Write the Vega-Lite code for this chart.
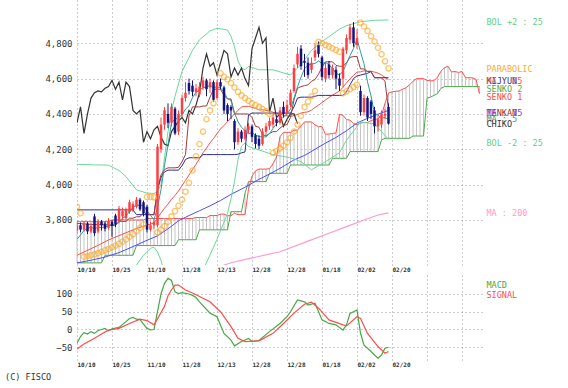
{
"$schema": "https://vega.github.io/schema/vega-lite/v6.json",
"background": "white",
"padding": {"left": 5, "top": 0, "right": 5, "bottom": 4},
"spacing": 10,
"bounds": "flush",
"resolve": {"scale": {"color": "independent"}},
"config": {
 "view": {"stroke": null},
 "font": "DejaVu Sans Mono",
 "axis": {"domain": false, "ticks": false, "grid": true, "gridColor": "#9a9a9a", "gridDash": [1, 3], "gridWidth": 1, "labelColor": "#333333", "labelFont": "DejaVu Sans Mono", "labelOverlap": false},
 "axisX": {"values": [0, 11, 22, 33, 44, 55, 66, 77, 88], "labelExpr": "['10/10','10/25','11/10','11/28','12/13','12/28','01/18','02/02','02/20'][round(datum.value/11)]", "labelAlign": "left", "labelBaseline": "top", "labelPadding": 1, "labelFontSize": 6, "labelFontWeight": "bold", "labelFlush": false, "labelBound": false},
 "axisY": {"labelFontSize": 9, "labelPadding": 5, "labelExpr": "format(datum.value, ',d')", "labelOverlap": false, "labelFlush": false, "labelBound": false}
},
"datasets": {
"k": [
{"i":0,"o":3740,"h":3790,"l":3725,"c":3770,"m5":3690,"m25":3600,"tk":3780,"kj":3857,"ck":4350,"sar":3875},
{"i":1,"o":3770,"h":3785,"l":3730,"c":3745,"ck":4440,"sar":3838},
{"i":2,"o":3745,"h":3795,"l":3735,"c":3780,"m5":3740,"ck":4290,"sar":3592},
{"i":3,"o":3780,"h":3790,"l":3720,"c":3735,"m5":3752,"m25":3628,"ck":4400,"sar":3595},
{"i":4,"o":3735,"h":3780,"l":3725,"c":3765,"m5":3759,"tk":3775,"ck":4490,"sar":3600},
{"i":5,"o":3820,"h":3835,"l":3710,"c":3725,"m5":3750,"ck":4520,"sar":3605},
{"i":6,"o":3735,"h":3805,"l":3725,"c":3790,"m5":3759,"m25":3656,"ck":4530,"sar":3612},
{"i":7,"o":3790,"h":3800,"l":3740,"c":3770,"m5":3757,"ck":4525,"sar":3620},
{"i":8,"o":3780,"h":3790,"l":3735,"c":3750,"m5":3760,"tk":3772,"ck":4545,"sar":3628},
{"i":9,"o":3755,"h":3810,"l":3745,"c":3795,"m5":3766,"m25":3687,"tk":3772,"ck":4555,"sar":3636},
{"i":10,"o":3790,"h":3800,"l":3705,"c":3765,"m5":3774,"tk":3770,"ck":4590,"sar":3645},
{"i":11,"o":3825,"h":3835,"l":3760,"c":3775,"m5":3771,"tk":3770,"ck":4540,"sar":3655},
{"i":12,"o":3790,"h":3880,"l":3780,"c":3865,"m5":3790,"m25":3711,"tk":3792,"ck":4580,"sar":3665},
{"i":13,"o":3820,"h":3870,"l":3800,"c":3850,"m5":3810,"tk":3792,"ck":4480,"sar":3677},
{"i":14,"o":3810,"h":3870,"l":3800,"c":3855,"m5":3822,"tk":3792,"ck":4580,"sar":3690},
{"i":15,"o":3845,"h":3915,"l":3835,"c":3900,"m5":3849,"tk":3810,"ck":4555,"sar":3705},
{"i":16,"o":3855,"h":3905,"l":3845,"c":3890,"m5":3872,"m25":3744,"tk":3810,"kj":3857,"ck":4420,"sar":3720},
{"i":17,"o":3875,"h":3930,"l":3865,"c":3915,"m5":3882,"tk":3818,"kj":3830,"ck":4400,"sar":3737},
{"i":18,"o":3915,"h":3925,"l":3850,"c":3860,"m5":3884,"tk":3818,"ck":4420,"sar":3755},
{"i":19,"o":3900,"h":3910,"l":3820,"c":3840,"m5":3881,"m25":3765,"tk":3845,"ck":4240,"sar":3775},
{"i":20,"o":3875,"h":3885,"l":3730,"c":3745,"m5":3850,"tk":3830,"ck":4300,"sar":3930},
{"i":21,"o":3745,"h":3790,"l":3735,"c":3770,"m5":3826,"tk":3830,"ck":4260,"sar":3930},
{"i":22,"o":3770,"h":3800,"l":3750,"c":3790,"m5":3801,"m25":3783,"tk":3830,"kj":3830,"ck":4310,"sar":3928},
{"i":23,"o":3770,"h":4230,"l":3760,"c":4215,"m5":3872,"m25":3810,"tk":3980,"kj":3968,"ck":4330,"sar":3730},
{"i":24,"o":4200,"h":4380,"l":4180,"c":4340,"m5":3972,"m25":3840,"tk":4055,"kj":4042,"ck":4270,"sar":3745},
{"i":25,"o":4340,"h":4440,"l":4310,"c":4420,"m5":4107,"m25":3866,"tk":4085,"kj":4072,"ck":4230,"sar":3765},
{"i":26,"o":4400,"h":4460,"l":4320,"c":4350,"m5":4223,"m25":3890,"tk":4095,"kj":4082,"ck":4220,"sar":3790},
{"i":27,"o":4350,"h":4460,"l":4330,"c":4440,"m5":4353,"m25":3917,"tk":4095,"kj":4082,"ck":4300,"sar":3820},
{"i":28,"o":4430,"h":4440,"l":4280,"c":4290,"m5":4368,"m25":3939,"tk":4095,"kj":4082,"ck":4330,"sar":3850},
{"i":29,"o":4300,"h":4420,"l":4280,"c":4400,"m5":4380,"m25":3964,"tk":4098,"kj":4082,"ck":4360,"sar":3880},
{"i":30,"o":4400,"h":4510,"l":4380,"c":4490,"m5":4394,"m25":3995,"tk":4130,"kj":4107,"ck":4380,"sar":3915},
{"i":31,"o":4490,"h":4580,"l":4470,"c":4520,"m5":4428,"m25":4024,"tk":4170,"kj":4142,"ck":4350,"sar":3960},
{"i":32,"o":4575,"h":4600,"l":4510,"c":4530,"m5":4446,"m25":4054,"tk":4390,"kj":4152,"ck":4420,"sar":4010},
{"i":33,"o":4560,"h":4590,"l":4500,"c":4525,"m5":4493,"m25":4085,"tk":4440,"kj":4152,"ck":4400,"sar":4080},
{"i":34,"o":4525,"h":4570,"l":4500,"c":4545,"m5":4522,"m25":4115,"tk":4440,"kj":4152,"ck":4450,"sar":4160},
{"i":35,"o":4510,"h":4580,"l":4495,"c":4555,"m5":4535,"m25":4147,"tk":4440,"kj":4152,"ck":4520,"sar":4230},
{"i":36,"o":4550,"h":4610,"l":4535,"c":4590,"m5":4549,"m25":4180,"tk":4445,"kj":4170,"ck":4660,"sar":4300},
{"i":37,"o":4590,"h":4600,"l":4500,"c":4540,"m5":4551,"m25":4207,"tk":4445,"kj":4170,"ck":4740,"sar":4370},
{"i":38,"o":4550,"h":4600,"l":4520,"c":4580,"m5":4562,"m25":4236,"tk":4495,"kj":4170,"ck":4670,"sar":4420},
{"i":39,"o":4580,"h":4590,"l":4470,"c":4480,"m5":4549,"m25":4261,"tk":4540,"kj":4170,"ck":4690,"sar":4460},
{"i":40,"o":4490,"h":4595,"l":4480,"c":4580,"m5":4554,"m25":4288,"tk":4540,"kj":4170,"ck":4620},
{"i":41,"o":4580,"h":4600,"l":4540,"c":4555,"m5":4547,"m25":4315,"tk":4540,"kj":4170,"ck":4690,"sar":4630},
{"i":42,"o":4550,"h":4560,"l":4400,"c":4420,"m5":4523,"m25":4335,"tk":4505,"kj":4170,"ck":4760,"sar":4610},
{"i":43,"o":4450,"h":4460,"l":4360,"c":4400,"m5":4487,"m25":4356,"tk":4485,"kj":4170,"ck":4740,"sar":4595},
{"i":44,"o":4440,"h":4450,"l":4370,"c":4420,"m5":4475,"m25":4380,"tk":4485,"kj":4170,"ck":4610,"sar":4575},
{"i":45,"o":4360,"h":4370,"l":4200,"c":4240,"m5":4407,"m25":4399,"tk":4400,"kj":4170,"ck":4660,"sar":4550},
{"i":46,"o":4240,"h":4320,"l":4225,"c":4300,"m5":4356,"m25":4421,"tk":4400,"kj":4172,"ck":4620,"sar":4525},
{"i":47,"o":4300,"h":4310,"l":4240,"c":4260,"m5":4324,"m25":4439,"tk":4400,"kj":4180,"ck":4660,"sar":4505},
{"i":48,"o":4260,"h":4330,"l":4250,"c":4310,"m5":4306,"m25":4443,"tk":4400,"kj":4185,"ck":4600,"sar":4490},
{"i":49,"o":4310,"h":4350,"l":4290,"c":4330,"m5":4288,"m25":4443,"tk":4400,"kj":4395,"ck":4560,"sar":4475},
{"i":50,"o":4330,"h":4340,"l":4240,"c":4270,"m5":4294,"m25":4437,"tk":4380,"kj":4405,"ck":4770,"sar":4460},
{"i":51,"o":4280,"h":4290,"l":4205,"c":4230,"m5":4280,"m25":4432,"tk":4330,"kj":4405,"ck":4830,"sar":4450},
{"i":52,"o":4260,"h":4280,"l":4200,"c":4220,"m5":4272,"m25":4423,"tk":4325,"kj":4405,"ck":4890,"sar":4440},
{"i":53,"o":4230,"h":4320,"l":4220,"c":4300,"m5":4270,"m25":4424,"tk":4285,"kj":4405,"ck":4800,"sar":4428},
{"i":54,"o":4300,"h":4350,"l":4280,"c":4330,"m5":4270,"m25":4421,"tk":4275,"kj":4405,"ck":4830,"sar":4415},
{"i":55,"o":4330,"h":4380,"l":4310,"c":4360,"m5":4288,"m25":4416,"tk":4290,"kj":4405,"ck":4410,"sar":4400},
{"i":56,"o":4340,"h":4400,"l":4320,"c":4380,"m5":4318,"m25":4410,"tk":4300,"kj":4405,"ck":4490,"sar":4180},
{"i":57,"o":4370,"h":4390,"l":4330,"c":4350,"m5":4344,"m25":4403,"tk":4300,"kj":4405,"ck":4380,"sar":4190},
{"i":58,"o":4350,"h":4440,"l":4340,"c":4420,"m5":4368,"m25":4399,"tk":4320,"kj":4405,"ck":4400,"sar":4205},
{"i":59,"o":4440,"h":4470,"l":4380,"c":4400,"m5":4382,"m25":4393,"tk":4335,"kj":4405,"ck":4330,"sar":4220},
{"i":60,"o":4400,"h":4480,"l":4390,"c":4450,"m5":4400,"m25":4389,"tk":4340,"kj":4405,"ck":4370,"sar":4240},
{"i":61,"o":4450,"h":4540,"l":4440,"c":4520,"m5":4428,"m25":4386,"tk":4380,"kj":4405,"ck":4400,"sar":4265},
{"i":62,"o":4530,"h":4680,"l":4520,"c":4660,"m5":4490,"m25":4391,"tk":4480,"kj":4440,"ck":4400,"sar":4300},
{"i":63,"o":4680,"h":4780,"l":4660,"c":4740,"m5":4554,"m25":4397,"tk":4545,"kj":4490,"ck":4345,"sar":4340},
{"i":64,"o":4770,"h":4790,"l":4650,"c":4670,"m5":4608,"m25":4405,"tk":4555,"kj":4495,"sar":4390},
{"i":65,"o":4700,"h":4740,"l":4610,"c":4690,"m5":4656,"m25":4409,"tk":4560,"kj":4495,"sar":4440},
{"i":66,"o":4690,"h":4720,"l":4600,"c":4620,"m5":4676,"m25":4412,"tk":4565,"kj":4495,"sar":4470},
{"i":67,"o":4650,"h":4720,"l":4630,"c":4690,"m5":4682,"m25":4422,"tk":4585,"kj":4495,"sar":4500},
{"i":68,"o":4720,"h":4800,"l":4700,"c":4760,"m5":4686,"m25":4437,"tk":4595,"kj":4500,"sar":4530},
{"i":69,"o":4790,"h":4810,"l":4720,"c":4740,"m5":4700,"m25":4450,"tk":4625,"kj":4505,"sar":4808},
{"i":70,"o":4720,"h":4730,"l":4590,"c":4610,"m5":4684,"m25":4464,"tk":4665,"kj":4505,"sar":4800},
{"i":71,"o":4600,"h":4690,"l":4580,"c":4660,"m5":4692,"m25":4479,"tk":4695,"kj":4505,"sar":4790},
{"i":72,"o":4680,"h":4700,"l":4600,"c":4620,"m5":4678,"m25":4493,"tk":4695,"kj":4505,"sar":4781},
{"i":73,"o":4620,"h":4680,"l":4600,"c":4660,"m5":4658,"m25":4507,"tk":4695,"kj":4505,"sar":4772},
{"i":74,"o":4650,"h":4670,"l":4540,"c":4600,"m5":4630,"m25":4518,"tk":4675,"kj":4505,"sar":4762},
{"i":75,"o":4600,"h":4630,"l":4530,"c":4560,"m5":4620,"m25":4530,"tk":4670,"kj":4505,"sar":4752},
{"i":76,"o":4600,"h":4780,"l":4550,"c":4770,"m5":4642,"m25":4551,"tk":4670,"kj":4505,"sar":4518},
{"i":77,"o":4760,"h":4850,"l":4740,"c":4830,"m5":4684,"m25":4576,"tk":4690,"kj":4525,"sar":4528},
{"i":78,"o":4820,"h":4910,"l":4800,"c":4890,"m5":4730,"m25":4599,"tk":4720,"kj":4565,"sar":4540},
{"i":79,"o":4890,"h":4920,"l":4780,"c":4800,"m5":4770,"m25":4618,"tk":4725,"kj":4600,"sar":4552},
{"i":80,"o":4790,"h":4880,"l":4770,"c":4830,"m5":4824,"m25":4637,"tk":4725,"kj":4615,"sar":4565},
{"i":81,"o":4530,"h":4560,"l":4390,"c":4410,"m5":4752,"m25":4638,"tk":4655,"kj":4620,"sar":4917},
{"i":82,"o":4410,"h":4510,"l":4390,"c":4490,"m5":4684,"m25":4644,"tk":4655,"kj":4625,"sar":4895},
{"i":83,"o":4490,"h":4500,"l":4360,"c":4380,"m5":4582,"m25":4642,"tk":4640,"kj":4630,"sar":4870},
{"i":84,"o":4470,"h":4480,"l":4370,"c":4400,"m5":4502,"m25":4642,"tk":4640,"kj":4640,"sar":4840},
{"i":85,"o":4420,"h":4440,"l":4290,"c":4330,"m5":4402,"m25":4637,"tk":4605,"kj":4605,"sar":4810},
{"i":86,"o":4330,"h":4390,"l":4300,"c":4370,"m5":4394,"m25":4631,"tk":4605,"kj":4605,"sar":4775},
{"i":87,"o":4340,"h":4420,"l":4320,"c":4400,"m5":4376,"m25":4621,"tk":4605,"kj":4605,"sar":4738},
{"i":88,"o":4390,"h":4430,"l":4370,"c":4400,"m5":4380,"m25":4607,"tk":4585,"kj":4605,"sar":4698},
{"i":89,"o":4440,"h":4460,"l":4340,"c":4345,"m5":4369,"m25":4594,"tk":4425,"kj":4605,"sar":4658}
],
"sp": [
{"i":0,"m75":3557,"bu":4115,"bl":3085},
{"i":4,"m75":3572},
{"i":5,"bu":4112},
{"i":8,"m75":3590},
{"i":9,"bu":4110},
{"i":10,"bl":3250},
{"i":12,"m75":3615,"bu":4080},
{"i":14,"bu":4045},
{"i":15,"bl":3480},
{"i":16,"m75":3649},
{"i":17,"bu":3970,"bl":3545},
{"i":19,"bl":3600},
{"i":20,"m75":3685,"bu":3952},
{"i":21,"bl":3640},
{"i":22,"bu":3950,"bl":3645},
{"i":23,"m75":3710,"bu":3960,"bl":3620},
{"i":24,"bu":4000,"bl":3570},
{"i":25,"bu":4150,"bl":3500},
{"i":26,"m75":3750,"bu":4300,"bl":3440},
{"i":27,"bu":4420},
{"i":28,"bu":4500,"bl":3378},
{"i":29,"m75":3795},
{"i":30,"bu":4640,"bl":3350,"m200":3495},
{"i":32,"m75":3825},
{"i":33,"bu":4760,"bl":3410},
{"i":35,"m75":3852,"bu":4820,"bl":3474},
{"i":38,"m75":3880,"bu":4870,"bl":3602},
{"i":40,"bu":4885,"bl":3691,"m200":3530},
{"i":41,"m75":3910},
{"i":43,"bu":4875,"bl":3837},
{"i":44,"m75":3945,"bu":4840,"bl":3920,"m200":3558},
{"i":45,"bu":4780,"bl":4018},
{"i":46,"bu":4700,"bl":4142},
{"i":47,"bu":4660,"bl":4218},
{"i":48,"m75":3985,"bu":4650,"bl":4236},
{"i":49,"bu":4670,"bl":4216},
{"i":50,"m200":3585},
{"i":52,"m75":4030,"bu":4650,"bl":4196},
{"i":55,"m75":4060},
{"i":56,"bu":4650,"bl":4170},
{"i":58,"m75":4092,"m200":3620},
{"i":61,"bu":4620,"bl":4152},
{"i":62,"m75":4140},
{"i":64,"bu":4680,"bl":4130},
{"i":65,"m75":4165},
{"i":67,"bu":4760,"bl":4084,"m200":3687},
{"i":68,"m75":4200},
{"i":70,"bu":4810,"bl":4118},
{"i":71,"m75":4235},
{"i":72,"m200":3725},
{"i":74,"m75":4267},
{"i":75,"bu":4880,"bl":4180},
{"i":77,"m75":4305,"bu":4900,"bl":4252,"m200":3762},
{"i":80,"m75":4349},
{"i":81,"bu":4922,"bl":4354},
{"i":82,"m200":3800},
{"i":83,"m75":4375},
{"i":85,"m75":4391,"bu":4930,"bl":4344},
{"i":86,"m200":3828},
{"i":87,"m75":4406},
{"i":89,"m75":4420,"bu":4932,"bl":4256,"m200":3840}
],
"cl": [
{"i":0,"s1":3790,"s2":3557},{"i":1,"s1":3790,"s2":3557},{"i":2,"s1":3790,"s2":3557},{"i":3,"s1":3790,"s2":3557},
{"i":4,"s1":3790,"s2":3557},{"i":5,"s1":3790,"s2":3557},{"i":6,"s1":3790,"s2":3557},{"i":7,"s1":3790,"s2":3557},
{"i":8,"s1":3790,"s2":3600},{"i":9,"s1":3790,"s2":3600},{"i":10,"s1":3800,"s2":3600},{"i":11,"s1":3800,"s2":3600},
{"i":12,"s1":3800,"s2":3600},{"i":13,"s1":3800,"s2":3600},{"i":14,"s1":3800,"s2":3600},{"i":15,"s1":3800,"s2":3600},
{"i":16,"s1":3800,"s2":3600},{"i":17,"s1":3800,"s2":3655},{"i":18,"s1":3800,"s2":3655},{"i":19,"s1":3800,"s2":3655},
{"i":20,"s1":3808,"s2":3655},{"i":21,"s1":3808,"s2":3655},{"i":22,"s1":3808,"s2":3655},{"i":23,"s1":3808,"s2":3655},
{"i":24,"s1":3808,"s2":3655},{"i":25,"s1":3808,"s2":3655},{"i":26,"s1":3808,"s2":3655},{"i":27,"s1":3808,"s2":3655},
{"i":28,"s1":3808,"s2":3655},{"i":29,"s1":3808,"s2":3688},{"i":30,"s1":3808,"s2":3688},{"i":31,"s1":3808,"s2":3688},
{"i":32,"s1":3808,"s2":3688},{"i":33,"s1":3808,"s2":3688},{"i":34,"s1":3814,"s2":3688},{"i":35,"s1":3814,"s2":3744},
{"i":36,"s1":3814,"s2":3744},{"i":37,"s1":3813,"s2":3744},{"i":38,"s1":3825,"s2":3744},{"i":39,"s1":3825,"s2":3744},
{"i":40,"s1":3825,"s2":3744},{"i":41,"s1":3833,"s2":3744},{"i":42,"s1":3833,"s2":3744},{"i":43,"s1":3824,"s2":3744},
{"i":44,"s1":3824,"s2":3847},{"i":45,"s1":3838,"s2":3847},{"i":46,"s1":3830,"s2":3847},{"i":47,"s1":3830,"s2":3847},
{"i":48,"s1":3830,"s2":3950},{"i":49,"s1":3974,"s2":4017},{"i":50,"s1":4048,"s2":4017},{"i":51,"s1":4078,"s2":4017},
{"i":52,"s1":4088,"s2":4017},{"i":53,"s1":4088,"s2":4017},{"i":54,"s1":4088,"s2":4017},{"i":55,"s1":4090,"s2":4064},
{"i":56,"s1":4118,"s2":4064},{"i":57,"s1":4156,"s2":4064},{"i":58,"s1":4271,"s2":4064},{"i":59,"s1":4296,"s2":4064},
{"i":60,"s1":4296,"s2":4064},{"i":61,"s1":4296,"s2":4111},{"i":62,"s1":4308,"s2":4111},{"i":63,"s1":4308,"s2":4111},
{"i":64,"s1":4332,"s2":4111},{"i":65,"s1":4355,"s2":4111},{"i":66,"s1":4355,"s2":4111},{"i":67,"s1":4355,"s2":4111},
{"i":68,"s1":4338,"s2":4111},{"i":69,"s1":4328,"s2":4111},{"i":70,"s1":4328,"s2":4111},{"i":71,"s1":4285,"s2":4111},
{"i":72,"s1":4286,"s2":4111},{"i":73,"s1":4290,"s2":4149},{"i":74,"s1":4292,"s2":4149},{"i":75,"s1":4398,"s2":4149},
{"i":76,"s1":4392,"s2":4149},{"i":77,"s1":4368,"s2":4149},{"i":78,"s1":4365,"s2":4187},{"i":79,"s1":4345,"s2":4187},
{"i":80,"s1":4340,"s2":4187},{"i":81,"s1":4348,"s2":4187},{"i":82,"s1":4352,"s2":4187},{"i":83,"s1":4352,"s2":4187},
{"i":84,"s1":4362,"s2":4187},{"i":85,"s1":4370,"s2":4187},{"i":86,"s1":4372,"s2":4187},{"i":87,"s1":4392,"s2":4253},
{"i":88,"s1":4460,"s2":4262},{"i":89,"s1":4518,"s2":4262},{"i":90,"s1":4525,"s2":4262},{"i":91,"s1":4528,"s2":4262},
{"i":92,"s1":4530,"s2":4262},{"i":93,"s1":4540,"s2":4262},{"i":94,"s1":4548,"s2":4262},{"i":95,"s1":4565,"s2":4262},
{"i":96,"s1":4585,"s2":4275},{"i":97,"s1":4600,"s2":4275},{"i":98,"s1":4600,"s2":4275},{"i":99,"s1":4600,"s2":4275},
{"i":100,"s1":4590,"s2":4489},{"i":101,"s1":4588,"s2":4495},{"i":102,"s1":4588,"s2":4505},{"i":103,"s1":4608,"s2":4515},
{"i":104,"s1":4642,"s2":4545},{"i":105,"s1":4662,"s2":4555},{"i":106,"s1":4670,"s2":4555},{"i":107,"s1":4638,"s2":4555},
{"i":108,"s1":4640,"s2":4555},{"i":109,"s1":4635,"s2":4555},{"i":110,"s1":4640,"s2":4555},{"i":111,"s1":4605,"s2":4555},
{"i":112,"s1":4605,"s2":4555},{"i":113,"s1":4605,"s2":4555},{"i":114,"s1":4595,"s2":4555},{"i":115,"s1":4515,"s2":4555}
],
"md": [
{"i":0,"m":-39,"s":-55},{"i":1,"m":-20},{"i":2,"m":-9,"s":-41},{"i":3,"m":-13},{"i":4,"m":-6},{"i":5,"m":-11,"s":-25},
{"i":6,"m":-3},{"i":7,"m":0,"s":-13},{"i":8,"m":3},{"i":9,"m":-4,"s":-2},{"i":10,"m":2},{"i":12,"m":6,"s":3},
{"i":14,"m":22},{"i":15,"m":31,"s":17},{"i":16,"m":34},{"i":17,"m":29},{"i":18,"m":28,"s":29},{"i":19,"m":15},
{"i":20,"m":3,"s":25},{"i":21,"m":-1},{"i":22,"m":0,"s":13},{"i":23,"m":50,"s":30},{"i":24,"m":100,"s":48},{"i":25,"m":130,"s":65},
{"i":26,"m":144,"s":95},{"i":27,"m":138,"s":112},{"i":28,"m":106,"s":125},{"i":29,"m":101,"s":125},{"i":30,"m":104},
{"i":31,"s":111},{"i":32,"m":100},{"i":33,"m":96,"s":103},{"i":34,"m":90,"s":98},{"i":35,"m":78},{"i":38,"m":46,"s":78},
{"i":40,"m":36},{"i":41,"s":50},{"i":42,"m":-11},{"i":44,"m":-30,"s":8},{"i":45,"m":-46},{"i":46,"s":-25},{"i":47,"m":-34},
{"i":48,"s":-34},{"i":49,"m":-25},{"i":50,"m":-34},{"i":52,"m":-31,"s":-32},{"i":55,"m":-6},{"i":56,"s":-11},
{"i":58,"m":17},{"i":59,"s":17},{"i":60,"m":36},{"i":61,"m":50},{"i":62,"s":46},{"i":63,"m":83},{"i":65,"m":78,"s":71},
{"i":66,"m":69},{"i":67,"s":77},{"i":68,"m":74},{"i":69,"s":60},{"i":70,"m":27},{"i":72,"m":17,"s":27},{"i":74,"m":13},
{"i":76,"m":-2,"s":13},{"i":77,"m":13,"s":10},{"i":78,"m":45},{"i":79,"m":50},{"i":80,"m":55,"s":36},{"i":81,"m":-10,"s":31},
{"i":82,"m":-44},{"i":83,"m":-53,"s":-11},{"i":84,"m":-62},{"i":85,"m":-72},{"i":86,"m":-81,"s":-48},{"i":87,"m":-72},
{"i":88,"m":-53,"s":-67},{"i":89,"m":-50,"s":-62}
],
"lg": [
{"t":"BOL +2 : 25","v":4919},{"t":"PARABOLIC","v":4655},{"t":"KIJYUN","v":4588},{"t":"MA : 25","v":4588},
{"t":"SENKO 2","v":4540},{"t":"SENKO 1","v":4494},{"t":"TENKAN","v":4407},{"t":"MA : 75","v":4407},
{"t":"MA : 5","v":4369},{"t":"CHIKO","v":4343},{"t":"BOL -2 : 25","v":4237},{"t":"MA : 200","v":3837}
],
"lg2": [{"t": "MACD", "v": 125.3}, {"t": "SIGNAL", "v": 97.3}],
"cp": [{"t": "(C) FISCO"}]
},
"vconcat": [
{
"width": 406, "height": 265,
"layer": [
{"data": {"name": "cl"}, "mark": {"type": "rule", "color": "#c4c4c4", "strokeWidth": 1},
 "encoding": {"x": {"field": "i", "type": "quantitative", "title": null, "scale": {"domain": [0, 116], "nice": false, "zero": false}},
   "y": {"field": "s1", "type": "quantitative", "title": null, "scale": {"domain": [3545, 5045], "nice": false, "zero": false},
   "axis": {"values": [3800, 4000, 4200, 4400, 4600, 4800], "labelOverlap": false}}, "y2": {"field": "s2"}}},
{"data": {"name": "cl"}, "mark": {"type": "line", "color": "#4caa4c", "strokeWidth": 1, "clip": true},
 "encoding": {"x": {"field": "i", "type": "quantitative", "title": null}, "y": {"field": "s2", "type": "quantitative", "title": null, "axis": {"values": [3800, 4000, 4200, 4400, 4600, 4800], "labelOverlap": false}}}},
{"data": {"name": "cl"}, "mark": {"type": "line", "color": "#ff5050", "strokeWidth": 1, "clip": true},
 "encoding": {"x": {"field": "i", "type": "quantitative", "title": null}, "y": {"field": "s1", "type": "quantitative", "title": null, "axis": {"values": [3800, 4000, 4200, 4400, 4600, 4800], "labelOverlap": false}}}},
{"data": {"name": "sp"}, "transform": [{"filter": "isValid(datum.m200)"}], "mark": {"type": "line", "color": "#ff99cc", "strokeWidth": 1.2, "clip": true},
 "encoding": {"x": {"field": "i", "type": "quantitative", "title": null}, "y": {"field": "m200", "type": "quantitative", "title": null, "axis": {"values": [3800, 4000, 4200, 4400, 4600, 4800], "labelOverlap": false}}}},
{"data": {"name": "sp"}, "transform": [{"filter": "isValid(datum.m75)"}], "mark": {"type": "line", "color": "#4d4dff", "strokeWidth": 1, "clip": true},
 "encoding": {"x": {"field": "i", "type": "quantitative", "title": null}, "y": {"field": "m75", "type": "quantitative", "title": null, "axis": {"values": [3800, 4000, 4200, 4400, 4600, 4800], "labelOverlap": false}}}},
{"data": {"name": "sp"}, "transform": [{"filter": "isValid(datum.bu)"}], "mark": {"type": "line", "color": "#6cd79b", "strokeWidth": 1, "clip": true},
 "encoding": {"x": {"field": "i", "type": "quantitative", "title": null}, "y": {"field": "bu", "type": "quantitative", "title": null, "axis": {"values": [3800, 4000, 4200, 4400, 4600, 4800], "labelOverlap": false}}}},
{"data": {"name": "sp"}, "transform": [{"filter": "isValid(datum.bl)"}], "mark": {"type": "line", "color": "#6cd79b", "strokeWidth": 1, "clip": true},
 "encoding": {"x": {"field": "i", "type": "quantitative", "title": null}, "y": {"field": "bl", "type": "quantitative", "title": null, "axis": {"values": [3800, 4000, 4200, 4400, 4600, 4800], "labelOverlap": false}}}},
{"data": {"name": "k"}, "transform": [{"filter": "isValid(datum.m25)"}], "mark": {"type": "line", "color": "#ff4d4d", "strokeWidth": 1, "clip": true},
 "encoding": {"x": {"field": "i", "type": "quantitative", "title": null}, "y": {"field": "m25", "type": "quantitative", "title": null, "axis": {"values": [3800, 4000, 4200, 4400, 4600, 4800], "labelOverlap": false}}}},
{"data": {"name": "k"}, "transform": [{"filter": "isValid(datum.ck)"}], "mark": {"type": "line", "color": "#333333", "strokeWidth": 1.2, "clip": true},
 "encoding": {"x": {"field": "i", "type": "quantitative", "title": null}, "y": {"field": "ck", "type": "quantitative", "title": null, "axis": {"values": [3800, 4000, 4200, 4400, 4600, 4800], "labelOverlap": false}}}},
{"data": {"name": "k"}, "transform": [{"filter": "isValid(datum.kj)"}], "mark": {"type": "line", "color": "#2b2b99", "strokeWidth": 1, "clip": true},
 "encoding": {"x": {"field": "i", "type": "quantitative", "title": null}, "y": {"field": "kj", "type": "quantitative", "title": null, "axis": {"values": [3800, 4000, 4200, 4400, 4600, 4800], "labelOverlap": false}}}},
{"data": {"name": "k"}, "transform": [{"filter": "isValid(datum.tk)"}], "mark": {"type": "line", "color": "#a03c3c", "strokeWidth": 1, "clip": true},
 "encoding": {"x": {"field": "i", "type": "quantitative", "title": null}, "y": {"field": "tk", "type": "quantitative", "title": null, "axis": {"values": [3800, 4000, 4200, 4400, 4600, 4800], "labelOverlap": false}}}},
{"data": {"name": "k"}, "transform": [{"filter": "isValid(datum.m5)"}], "mark": {"type": "line", "color": "#2e9c9c", "strokeWidth": 1, "clip": true},
 "encoding": {"x": {"field": "i", "type": "quantitative", "title": null}, "y": {"field": "m5", "type": "quantitative", "title": null, "axis": {"values": [3800, 4000, 4200, 4400, 4600, 4800], "labelOverlap": false}}}},
{"data": {"name": "k"}, "mark": {"type": "rule", "strokeWidth": 1, "clip": true},
 "encoding": {"x": {"field": "i", "type": "quantitative", "title": null}, "y": {"field": "l", "type": "quantitative", "title": null, "axis": {"values": [3800, 4000, 4200, 4400, 4600, 4800], "labelOverlap": false}}, "y2": {"field": "h"},
   "color": {"condition": {"test": "datum.c >= datum.o", "value": "#ff3f3f"}, "value": "#13137e"}}},
{"data": {"name": "k"}, "mark": {"type": "rule", "strokeWidth": 2.5, "clip": true},
 "encoding": {"x": {"field": "i", "type": "quantitative", "title": null}, "y": {"field": "o", "type": "quantitative", "title": null, "axis": {"values": [3800, 4000, 4200, 4400, 4600, 4800], "labelOverlap": false}}, "y2": {"field": "c"},
   "color": {"condition": {"test": "datum.c >= datum.o", "value": "#ff3f3f"}, "value": "#13137e"}}},
{"data": {"name": "k"}, "transform": [{"filter": "isValid(datum.sar)"}], "mark": {"type": "point", "shape": "circle", "filled": false, "size": 28, "strokeWidth": 1.3, "color": "#ffaa2a", "clip": true},
 "encoding": {"x": {"field": "i", "type": "quantitative", "title": null}, "y": {"field": "sar", "type": "quantitative", "title": null, "axis": {"values": [3800, 4000, 4200, 4400, 4600, 4800], "labelOverlap": false}}}},
{"data": {"name": "lg"}, "mark": {"type": "text", "align": "left", "baseline": "middle", "fontSize": 8.5, "font": "DejaVu Sans Mono"},
 "encoding": {"x": {"datum": 117, "type": "quantitative"}, "y": {"field": "v", "type": "quantitative", "title": null, "axis": {"values": [3800, 4000, 4200, 4400, 4600, 4800], "labelOverlap": false}},
   "text": {"field": "t", "type": "nominal"},
   "color": {"field": "t", "type": "nominal", "legend": null, "scale": {
     "domain": ["BOL +2 : 25", "PARABOLIC", "KIJYUN", "MA : 25", "SENKO 2", "SENKO 1", "TENKAN", "MA : 75", "MA : 5", "CHIKO", "BOL -2 : 25", "MA : 200"],
     "range": ["#5fcf8a", "#ffaa33", "#333399", "#ff4d4d", "#55aa55", "#ff4d4d", "#993333", "#5555ee", "#339999", "#333333", "#5fcf8a", "#ff99cc"]}}}}
]
},
{
"width": 406, "height": 85,
"layer": [
{"data": {"name": "md"}, "transform": [{"filter": "isValid(datum.m)"}], "mark": {"type": "line", "color": "#44aa44", "strokeWidth": 1.2, "clip": true},
 "encoding": {"x": {"field": "i", "type": "quantitative", "title": null, "scale": {"domain": [0, 116], "nice": false, "zero": false}},
   "y": {"field": "m", "type": "quantitative", "title": null, "scale": {"domain": [-86, 153.5], "nice": false, "zero": false},
   "axis": {"values": [-50, 0, 50, 100], "labelOverlap": false, "labelExpr": "format(datum.value, 'd')"}}}},
{"data": {"name": "md"}, "transform": [{"filter": "isValid(datum.s)"}], "mark": {"type": "line", "color": "#ff4d4d", "strokeWidth": 1.2, "clip": true},
 "encoding": {"x": {"field": "i", "type": "quantitative", "title": null}, "y": {"field": "s", "type": "quantitative", "title": null, "axis": {"values": [-50, 0, 50, 100], "labelOverlap": false, "labelExpr": "format(datum.value, 'd')"}}}},
{"data": {"name": "lg2"}, "mark": {"type": "text", "align": "left", "baseline": "middle", "fontSize": 8.5, "font": "DejaVu Sans Mono"},
 "encoding": {"x": {"datum": 117, "type": "quantitative"}, "y": {"field": "v", "type": "quantitative", "title": null, "axis": {"values": [-50, 0, 50, 100], "labelOverlap": false, "labelExpr": "format(datum.value, 'd')"}},
   "text": {"field": "t", "type": "nominal"}, "color": {"field": "t", "type": "nominal", "legend": null, "scale": {"domain": ["MACD", "SIGNAL"], "range": ["#44aa44", "#ff4d4d"]}}}},
{"data": {"name": "cp"}, "mark": {"type": "text", "align": "left", "baseline": "middle", "fontSize": 8.5, "font": "DejaVu Sans Mono", "color": "#333333"},
 "encoding": {"x": {"datum": -20.55, "type": "quantitative"}, "y": {"datum": -133, "type": "quantitative", "axis": {"values": [-50, 0, 50, 100], "labelOverlap": false, "labelExpr": "format(datum.value, 'd')"}}, "text": {"field": "t", "type": "nominal"}}}
]
}
]
}
